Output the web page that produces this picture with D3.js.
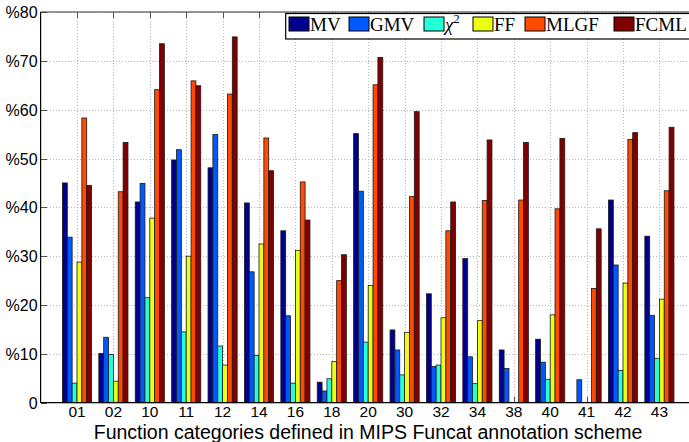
<!DOCTYPE html>
<html>
<head>
<meta charset="utf-8">
<script src="https://cdn.jsdelivr.net/npm/d3@7"></script>
<style>
  html, body { margin: 0; padding: 0; background: #fff; }
  svg { display: block; }
  .sans { font-family: "Liberation Sans", Arial, Helvetica, sans-serif; }
  .serif { font-family: "Liberation Serif", "Times New Roman", Times, serif; }
</style>
</head>
<body>
<svg id="chart" width="689" height="442"></svg>
<script>
// Function categories (MIPS Funcat top-level codes)
const categories = ["01","02","10","11","12","14","16","18","20","30","32","34","38","40","41","42","43"];

// Per-method scores (%) for each category
const seriesNames = ["MV", "GMV", "chi2", "FF", "MLGF", "FCML"];
const MV   = [45.0, 10.1, 41.1, 49.7, 48.1, 40.9, 35.2, 4.2, 55.1, 14.9, 22.3, 29.5, 10.8, 13.0, 0.0, 41.5, 34.1];
const GMV  = [33.9, 13.4, 44.9, 51.8, 54.9, 26.8, 17.8, 2.4, 43.3, 10.8, 7.4, 9.4, 7.0, 8.3, 4.7, 28.2, 17.9];
const CHI2 = [4.0, 9.9, 21.5, 14.5, 11.6, 9.7, 4.0, 4.9, 12.4, 5.7, 7.7, 3.9, 0.0, 4.8, 0.0, 6.6, 9.1];
const FF   = [28.8, 4.4, 37.8, 30.0, 7.7, 32.5, 31.2, 8.4, 24.0, 14.4, 17.4, 16.8, 0.0, 18.0, 0.0, 24.5, 21.2];
const MLGF = [58.3, 43.2, 64.1, 65.9, 63.2, 54.2, 45.2, 25.0, 65.1, 42.2, 35.2, 41.4, 41.5, 39.7, 23.4, 53.9, 43.4];
const FCML = [44.5, 53.3, 73.5, 64.9, 74.9, 47.5, 37.4, 30.3, 70.7, 59.6, 41.1, 53.8, 53.3, 54.1, 35.6, 55.3, 56.4];

const yTickValues = [0, 10, 20, 30, 40, 50, 60, 70, 80];
const yTickLabels = ["0", "%10", "%20", "%30", "%40", "%50", "%60", "%70", "%80"];
const xTitle = "Function categories defined in MIPS Funcat annotation scheme";

// jet-style colours, one per method
const colors = ["#00008f", "#0059ff", "#24ffdb", "#ecff13", "#ff4a00", "#800000"];

const seriesValues = [MV, GMV, CHI2, FF, MLGF, FCML];

const svg = d3.select("#chart");

// Axes box geometry
const plotLeft = 40.6, plotTop = 12, plotBottom = 402.7;
const step = 36.4;
const plotRight = plotLeft + step * (categories.length + 1);

const x = d3.scalePoint()
  .domain(categories)
  .range([plotLeft + step, plotLeft + step * categories.length]);

const sub = d3.scaleBand()
  .domain(seriesNames)
  .range([-0.4 * step, 0.4 * step])
  .padding(0);

const y = d3.scaleLinear().domain([0, 80]).range([plotBottom, plotTop]);

svg.append("defs").append("clipPath").attr("id", "plotclip")
  .append("rect").attr("x", plotLeft).attr("y", plotTop - 1)
  .attr("width", plotRight - plotLeft).attr("height", plotBottom - plotTop + 2);

// Dotted grid
const grid = svg.append("g").attr("stroke", "#b5b5b5").attr("stroke-width", 1)
  .attr("stroke-dasharray", "1,2").attr("shape-rendering", "crispEdges");
grid.selectAll("line.h").data(yTickValues.slice(1)).join("line")
  .attr("x1", plotLeft).attr("x2", plotRight)
  .attr("y1", d => Math.round(y(d)) + 0.5).attr("y2", d => Math.round(y(d)) + 0.5);
grid.selectAll("line.v").data(categories).join("line")
  .attr("x1", d => Math.round(x(d)) + 0.5).attr("x2", d => Math.round(x(d)) + 0.5)
  .attr("y1", plotTop).attr("y2", plotBottom);

// Inward tick marks (drawn beneath the bars)
const ticks = svg.append("g").attr("stroke", "#555").attr("stroke-width", 1).attr("shape-rendering", "crispEdges");
ticks.selectAll("line.b").data(categories).join("line")
  .attr("x1", d => Math.round(x(d)) + 0.5).attr("x2", d => Math.round(x(d)) + 0.5)
  .attr("y1", plotBottom).attr("y2", plotBottom - 6);
ticks.selectAll("line.t").data(categories).join("line")
  .attr("x1", d => Math.round(x(d)) + 0.5).attr("x2", d => Math.round(x(d)) + 0.5)
  .attr("y1", plotTop).attr("y2", plotTop + 6);
ticks.selectAll("line.l").data(yTickValues).join("line")
  .attr("x1", plotLeft).attr("x2", plotLeft + 6)
  .attr("y1", d => Math.round(y(d)) + 0.5).attr("y2", d => Math.round(y(d)) + 0.5);

// Grouped bars
const bars = svg.append("g").attr("clip-path", "url(#plotclip)");
seriesNames.forEach((name, si) => {
  bars.append("g")
    .attr("fill", colors[si])
    .attr("stroke", "#1a1a1a")
    .attr("stroke-width", 0.8)
    .selectAll("rect")
    .data(categories.map((c, i) => ({ c, v: seriesValues[si][i] })))
    .join("rect")
    .attr("x", d => x(d.c) + sub(name))
    .attr("width", sub.bandwidth())
    .attr("y", d => y(d.v))
    .attr("height", d => y(0) - y(d.v));
});

// Axes box
const box = svg.append("g").attr("stroke", "#000").attr("stroke-width", 1.2).attr("fill", "none");
box.append("line").attr("x1", plotLeft).attr("x2", plotLeft).attr("y1", plotTop).attr("y2", plotBottom);
box.append("line").attr("x1", plotLeft).attr("x2", plotRight).attr("y1", plotBottom).attr("y2", plotBottom);
box.append("line").attr("x1", plotLeft).attr("x2", plotRight).attr("y1", plotTop).attr("y2", plotTop).attr("stroke", "#333");

// Y tick labels
svg.append("g")
  .attr("class", "sans")
  .attr("font-size", 16)
  .attr("text-anchor", "end")
  .selectAll("text")
  .data(yTickValues)
  .join("text")
  .attr("x", plotLeft - 3)
  .attr("y", d => y(d) + 6)
  .text((d, i) => yTickLabels[i]);

// X tick labels
svg.append("g")
  .attr("class", "sans")
  .attr("font-size", 15.5)
  .attr("text-anchor", "middle")
  .selectAll("text")
  .data(categories)
  .join("text")
  .attr("x", d => x(d))
  .attr("y", 417)
  .text(d => d);

// X axis title
svg.append("text")
  .attr("class", "sans")
  .attr("font-size", 19.5)
  .attr("text-anchor", "middle")
  .attr("x", 368)
  .attr("y", 438.5)
  .text(xTitle);

// Legend
const legend = svg.append("g");
legend.append("rect")
  .attr("x", 285.7).attr("y", 13.5).attr("width", 420).attr("height", 25.5)
  .attr("fill", "#fff").attr("stroke", "#000").attr("stroke-width", 1.2);
const legendX = [289, 349, 424, 473, 525, 614];
seriesNames.forEach((name, si) => {
  const lx = legendX[si];
  legend.append("rect")
    .attr("x", lx).attr("y", 17).attr("width", 20).attr("height", 14)
    .attr("fill", colors[si]).attr("stroke", "#000").attr("stroke-width", 1);
  const t = legend.append("text")
    .attr("class", "serif")
    .attr("x", lx + 21).attr("y", 30.5)
    .attr("font-size", 19);
  if (name === "chi2") {
    t.append("tspan").attr("font-style", "italic").text("χ");
    t.append("tspan").attr("font-size", 13).attr("dy", -8).text("2");
  } else {
    t.text(name);
  }
});
</script>
</body>
</html>
